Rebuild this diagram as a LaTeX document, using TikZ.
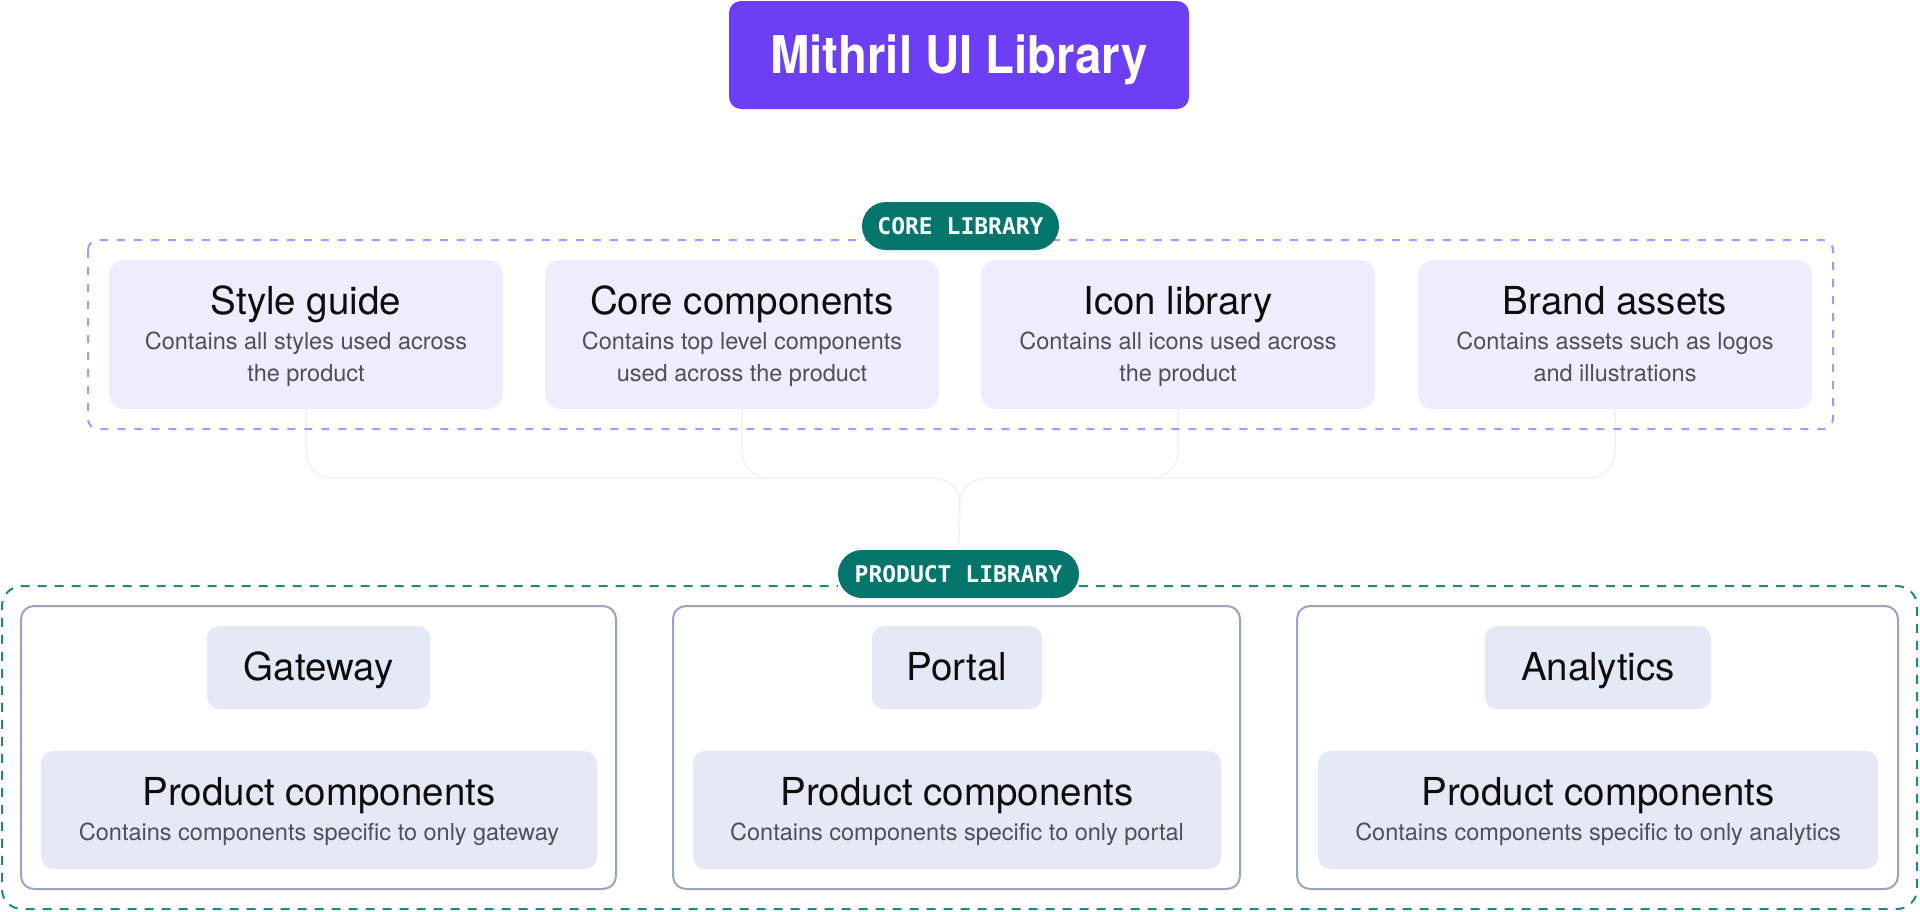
\documentclass[tikz,border=0pt]{standalone}
\usepackage{fontspec}
\setmainfont{TeX Gyre Heros}
\newfontfamily\headfont[FakeStretch=0.91]{TeX Gyre Heros}
\newfontfamily\pillfont{DejaVu Sans Mono}
\definecolor{brand}{HTML}{6C3EF4}
\definecolor{corefill}{HTML}{EFECFE}
\definecolor{coredash}{HTML}{AA96FC}
\definecolor{teal}{HTML}{03756A}
\definecolor{tealdash}{HTML}{23877D}
\definecolor{cardline}{HTML}{9CA5C0}
\definecolor{prodfill}{HTML}{E5E9F5}
\definecolor{ink}{HTML}{0D0D0D}
\definecolor{sub}{HTML}{4F4F57}
\definecolor{faint}{HTML}{F2F2F5}
\tikzset{
  corecard/.style={draw=none, fill=corefill, rounded corners=15pt, minimum width=394pt, minimum height=149pt, inner sep=0},
  prodcard/.style={draw=cardline, line width=2pt, fill=white, rounded corners=13pt, inner sep=0, minimum height=283pt},
  labelbox/.style={fill=prodfill, rounded corners=12pt, inner sep=0, minimum height=83pt},
  compbox/.style={fill=prodfill, rounded corners=12pt, inner sep=0, minimum height=118pt},
  pill/.style={fill=teal, text=white, rounded corners=24pt, minimum height=48pt, inner sep=0,
    font=\pillfont\bfseries\fontsize{23}{28}\selectfont, text height=16.8pt, text depth=0pt},
  ttl/.style={font=\fontsize{38.5}{46}\selectfont, text=ink, anchor=base, inner sep=0},
  dsc/.style={font=\fontsize{23.5}{30}\selectfont, text=sub, anchor=base, inner sep=0},
  faintline/.style={draw=faint, line width=1.5pt},
}
\begin{document}
\begin{tikzpicture}[x=1pt, y=-1pt]
\fill[white] (0,0) rectangle (1920,911);
\useasboundingbox (0,0) rectangle (1920,911);

% title
\node[fill=brand, rounded corners=12pt, minimum width=460pt, minimum height=108pt, inner sep=0,
  text=white, font=\headfont\bfseries\fontsize{52}{60}\selectfont, text height=37.4pt, text depth=0pt]
  (title) at (959,55) {Mithril UI Library};

% core cards
\node[corecard] (sg) at (306,334.5) {};
\node[corecard] (cc) at (742,334.5) {};
\node[corecard] (il) at (1178,334.5) {};
\node[corecard] (ba) at (1615,334.5) {};

% product library pill
\node[pill, minimum width=241pt] (plib) at (958.5,574) {PRODUCT LIBRARY};

% faint connectors
\coordinate (jl) at (928,478);
\coordinate (jr) at (992,478);
\coordinate (m) at (960,502);
\draw[faintline, rounded corners=26pt] (sg.south) |- (jl);
\draw[faintline, rounded corners=26pt] (cc.south) |- (jl);
\draw[faintline, rounded corners=26pt] (il.south) |- (jr);
\draw[faintline, rounded corners=26pt] (ba.south) |- (jr);
\draw[faintline] (jl) .. controls (948,478) and (960,486) .. (m);
\draw[faintline] (jr) .. controls (972,478) and (960,486) .. (m);
\draw[faintline] (m) -- (plib.north);

% core frame
\draw[coredash, line width=2pt, dash pattern=on 8pt off 9pt, rounded corners=10pt] (88,240) rectangle (1833,429);
\node[pill, minimum width=197pt] (clib) at (960.5,226) {CORE LIBRARY};

% core texts
\node[ttl] (sgt) at (306,314) {Style guide};
\node[dsc] (sgd1) at (306,349) {Contains all styles used across};
\node[dsc] (sgd2) at (306,381) {the product};
\node[ttl] (cct) at (742,314) {Core components};
\node[dsc] (ccd1) at (742,349) {Contains top level components};
\node[dsc] (ccd2) at (742,381) {used across the product};
\node[ttl] (ilt) at (1178,314) {Icon library};
\node[dsc] (ild1) at (1178,349) {Contains all icons used across};
\node[dsc] (ild2) at (1178,381) {the product};
\node[ttl] (bat) at (1615,314) {Brand assets};
\node[dsc] (bad1) at (1615,349) {Contains assets such as logos};
\node[dsc] (bad2) at (1615,381) {and illustrations};

% product frame (open where the pill sits)
\draw[tealdash, line width=2pt, dash pattern=on 9pt off 8pt, rounded corners=20pt]
  (plib.east |- 0,586) -- (1917,586) -- (1917,909) -- (2,909) -- (2,586) -- (plib.west |- 0,586);

% product cards
\node[prodcard, minimum width=595pt] (gw) at (318.5,747.5) {};
\node[prodcard, minimum width=567pt] (po) at (956.5,747.5) {};
\node[prodcard, minimum width=601pt] (an) at (1597.5,747.5) {};

\node[labelbox, minimum width=223pt] (gwl) at (318.5,667.5) {};
\node[labelbox, minimum width=170pt] (pol) at (957,667.5) {};
\node[labelbox, minimum width=226pt] (anl) at (1598,667.5) {};
\node[ttl] (gwlt) at (318.5,680) {Gateway};
\node[ttl] (polt) at (957,680) {Portal};
\node[ttl] (anlt) at (1598,680) {Analytics};

\node[compbox, minimum width=556pt] (gwc) at (319,810) {};
\node[compbox, minimum width=528pt] (poc) at (957,810) {};
\node[compbox, minimum width=560pt] (anc) at (1598,810) {};
\node[ttl] (gwct) at (319,805) {Product components};
\node[dsc] (gwcd) at (319,840) {Contains components specific to only gateway};
\node[ttl] (poct) at (957,805) {Product components};
\node[dsc] (pocd) at (957,840) {Contains components specific to only portal};
\node[ttl] (anct) at (1598,805) {Product components};
\node[dsc] (ancd) at (1598,840) {Contains components specific to only analytics};
\end{tikzpicture}
\end{document}
